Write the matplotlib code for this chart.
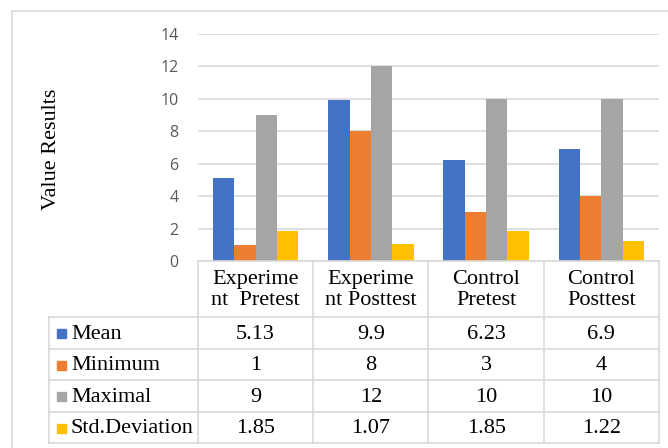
import matplotlib.pyplot as plt
from matplotlib.patches import Rectangle
import numpy as np

groups = ["Experime\nnt  Pretest", "Experime\nnt Posttest", "Control\nPretest", "Control\nPosttest"]
series = ["Mean", "Minimum", "Maximal", "Std.Deviation"]
mean = [5.13, 9.9, 6.23, 6.9]
minimum = [1, 8, 3, 4]
maximal = [9, 12, 10, 10]
std_dev = [1.85, 1.07, 1.85, 1.22]
yticks = [0, 2, 4, 6, 8, 10, 12, 14]

colors = ["#4472C4", "#ED7D31", "#A5A5A5", "#FFC000"]
grid_c = "#D9D9D9"
serif = "Liberation Serif"
fs = 16

W, H = 668, 448
fig = plt.figure(figsize=(W / 100, H / 100), dpi=100)

def px_box(x0, y0, x1, y1):
    return [x0 / W, 1 - y1 / H, (x1 - x0) / W, (y1 - y0) / H]

# outer chart frame
fig.patches.append(Rectangle((12 / W, 1 - 480 / H), 700 / W, 469 / H,
                             transform=fig.transFigure, fill=False,
                             edgecolor=grid_c, lw=1.2))

# bar area
ax = fig.add_axes(px_box(198, 34, 659, 261))
x = np.arange(len(groups))
bw = 0.185
values = [mean, minimum, maximal, std_dev]
for i, (vals, c) in enumerate(zip(values, colors)):
    ax.bar(x + (i - 1.5) * bw, vals, bw, color=c, zorder=3)
ax.set_xlim(-0.5, 3.5)
ax.set_ylim(0, 14)
ax.set_yticks(yticks)
ax.set_yticklabels([str(t) for t in yticks], family="Open Sans", fontsize=11.5, color="#595959")
ax.tick_params(axis="y", length=0, pad=14)
ax.set_xticks([])
ax.grid(axis="y", color=grid_c, lw=1.2, zorder=0)
for s in ax.spines.values():
    s.set_visible(False)

fig.text(52 / W, 1 - 149 / H, "Value Results", rotation=90, family=serif,
         fontsize=fs, ha="center", va="center")

# data table under the bars
col_w = (659 - 198) / 4
tab = fig.add_axes(px_box(49, 261, 659, 445))
left = -0.5 - (198 - 49) / col_w
tab.set_xlim(left, 3.5)
tab.set_ylim(445, 261)
tab.axis("off")

row_edges = [261, 317, 349, 380, 412, 443]
lc = "#D9D9D9"
# horizontal lines
tab.plot([-0.5, 3.5], [row_edges[0]] * 2, color=lc, lw=1.2, clip_on=False)
for y in row_edges[1:]:
    tab.plot([left, 3.5], [y, y], color=lc, lw=1.2, clip_on=False)
# vertical lines
for k in range(5):
    tab.plot([k - 0.5] * 2, [row_edges[0], row_edges[-1]], color=lc, lw=1.2, clip_on=False)
tab.plot([left] * 2, [row_edges[1], row_edges[-1]], color=lc, lw=1.2, clip_on=False)

for k, g in enumerate(groups):
    tab.text(k, (row_edges[0] + row_edges[1]) / 2 + 1, g, ha="center", va="center",
             family=serif, fontsize=fs, linespacing=1.12)

for r, (name, vals, c) in enumerate(zip(series, values, colors)):
    yc = (row_edges[r + 1] + row_edges[r + 2]) / 2 + 1
    tab.add_patch(Rectangle((left + 8 / col_w, yc - 5), 9 / col_w, 9, color=c))
    tab.text(left + 22 / col_w, yc, name, ha="left", va="center", family=serif, fontsize=fs)
    for k, v in enumerate(vals):
        tab.text(k, yc, f"{v:g}", ha="center", va="center", family=serif, fontsize=fs)

fig.savefig("out.png", dpi=100)
